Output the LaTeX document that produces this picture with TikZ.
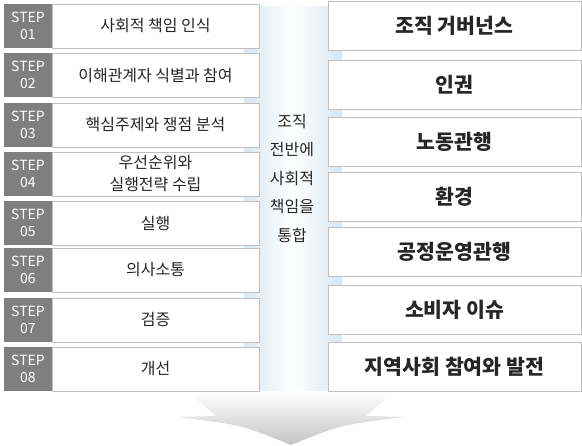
\documentclass[tikz,border=0pt]{standalone}
\usepackage{fontspec}
\setmainfont{Noto Sans CJK KR}
\definecolor{stepgray}{RGB}{127,127,127}
\definecolor{boxline}{RGB}{192,192,192}
\definecolor{bandblue}{RGB}{216,231,240}
\definecolor{arrowgray}{RGB}{196,196,196}
\definecolor{txt}{RGB}{38,38,38}

\begin{document}
\begin{tikzpicture}[x=1pt,y=-1pt,
    num/.style={fill=stepgray, text=white, anchor=north west, minimum width=48pt,
        minimum height=44pt, inner sep=0pt, outer sep=0pt, align=center,
        font=\fontsize{14}{17}\selectfont},
    stepbox/.style={draw=boxline, line width=.8pt, fill=white, anchor=north west,
        minimum width=207pt, minimum height=44pt, inner sep=0pt, outer sep=0pt,
        align=center, text=txt, font=\fontsize{16}{22}\selectfont},
    areabox/.style={draw=boxline, line width=.8pt, fill=white, anchor=north west,
        minimum width=253pt, minimum height=49pt, inner sep=0pt, outer sep=0pt,
        text=txt, font=\bfseries\fontsize{20.5}{24}\selectfont},
    bandtext/.style={text=txt, font=\fontsize{16}{18}\selectfont}]

\useasboundingbox (0,0) rectangle (582,446);

% band behind the boxes
\shade [left color=bandblue, right color=bandblue, middle color=white] (244,7) rectangle (342,391);

% arrow below
\shade [top color=white, bottom color=arrowgray] (188,392) -- (393,392) -- (366,416) -- (405,417)
    .. controls (340,425) .. (291,445) .. controls (242,425) .. (177,417) -- (216,416) -- cycle;

% steps
\node [stepbox] (t1) at (52,4) {사회적 책임 인식};
\node [num] (s1) at (4,4) {STEP\\01};
\node [stepbox] (t2) at (52,53) {이해관계자 식별과 참여};
\node [num] (s2) at (4,53) {STEP\\02};
\node [stepbox] (t3) at (52,103) {핵심주제와 쟁점 분석};
\node [num] (s3) at (4,103) {STEP\\03};
\node [stepbox] (t4) at (52,152) {우선순위와\\실행전략 수립};
\node [num] (s4) at (4,152) {STEP\\04};
\node [stepbox] (t5) at (52,201) {실행};
\node [num] (s5) at (4,201) {STEP\\05};
\node [stepbox] (t6) at (52,248) {의사소통};
\node [num] (s6) at (4,248) {STEP\\06};
\node [stepbox] (t7) at (52,298) {검증};
\node [num] (s7) at (4,298) {STEP\\07};
\node [stepbox] (t8) at (52,347) {개선};
\node [num] (s8) at (4,347) {STEP\\08};

% middle text
\node [bandtext] (b1) at (292,122) {조직};
\node [bandtext] (b2) at (292,150) {전반에};
\node [bandtext] (b3) at (292,179) {사회적};
\node [bandtext] (b4) at (292,207) {책임을};
\node [bandtext] (b5) at (292,235) {통합};

% core subjects
\node [areabox] (a1) at (328,1) {조직 거버넌스};
\node [areabox] (a2) at (328,60) {인권};
\node [areabox] (a3) at (328,117) {노동관행};
\node [areabox] (a4) at (328,172) {환경};
\node [areabox] (a5) at (328,227) {공정운영관행};
\node [areabox] (a6) at (328,285) {소비자 이슈};
\node [areabox] (a7) at (328,342) {지역사회 참여와 발전};
\end{tikzpicture}
\end{document}
